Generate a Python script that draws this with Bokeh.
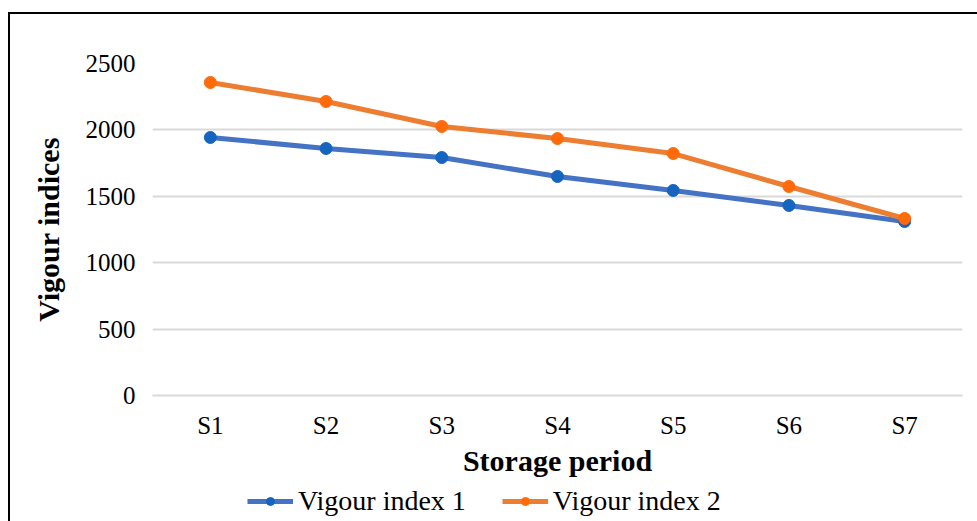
from bokeh.plotting import figure
from bokeh.layouts import column
from bokeh.embed import file_html
from bokeh.resources import INLINE
from bokeh.models import Legend, LegendItem, FixedTicker, Range1d

periods = ["S1", "S2", "S3", "S4", "S5", "S6", "S7"]
vigour_index_1 = [1943, 1860, 1792, 1649, 1544, 1431, 1310]
vigour_index_2 = [2357, 2214, 2026, 1935, 1822, 1574, 1333]
y_ticks = [0, 500, 1000, 1500, 2000, 2500]
series_names = ["Vigour index 1", "Vigour index 2"]

FONT = "Liberation Serif"
blue_line, blue_dot = "#4472C4", "#1565C0"
orange_line, orange_dot = "#ED7D31", "#FF6A0A"

p = figure(width=967, height=470, x_range=periods, y_range=Range1d(0, 2500),
           output_backend="svg", toolbar_location=None,
           min_border_left=142, min_border_right=15, min_border_top=49, min_border_bottom=89)
p.outline_line_color = None
p.background_fill_color = "white"
p.border_fill_color = "white"

p.line(periods, vigour_index_1, line_color=blue_line, line_width=5)
p.scatter(periods, vigour_index_1, size=12, fill_color=blue_dot, line_color=blue_dot)
p.line(periods, vigour_index_2, line_color=orange_line, line_width=5)
p.scatter(periods, vigour_index_2, size=12, fill_color=orange_dot, line_color=orange_dot)

# axes
p.yaxis.ticker = FixedTicker(ticks=y_ticks)
p.yaxis.axis_line_color = None
p.yaxis.major_tick_line_color = None
p.yaxis.minor_tick_line_color = None
p.yaxis.major_label_text_font = FONT
p.yaxis.major_label_text_font_size = "25px"
p.yaxis.major_label_text_color = "black"
p.yaxis.major_label_standoff = 11
p.yaxis.axis_label = "Vigour indices"
p.yaxis.axis_label_text_font = FONT
p.yaxis.axis_label_text_font_style = "bold"
p.yaxis.axis_label_text_font_size = "30px"
p.yaxis.axis_label_text_color = "black"
p.yaxis.axis_label_standoff = 18

p.xaxis.axis_line_color = "#d9d9d9"
p.xaxis.axis_line_width = 2
p.xaxis.major_tick_line_color = None
p.xaxis.minor_tick_line_color = None
p.xaxis.major_label_text_font = FONT
p.xaxis.major_label_text_font_size = "25px"
p.xaxis.major_label_text_color = "black"
p.xaxis.major_label_standoff = 10
p.xaxis.axis_label = "Storage period"
p.xaxis.axis_label_text_font = FONT
p.xaxis.axis_label_text_font_style = "bold"
p.xaxis.axis_label_text_font_size = "30px"
p.xaxis.axis_label_text_color = "black"
p.xaxis.axis_label_standoff = 2

p.xgrid.grid_line_color = None
p.ygrid.grid_line_color = "#d9d9d9"
p.ygrid.grid_line_width = 2

# legend strip (its glyphs fall outside the strip's y range; only the legend shows)
lg = figure(width=967, height=37, x_range=periods, y_range=Range1d(0, 1),
            output_backend="svg", toolbar_location=None,
            x_axis_location=None, y_axis_location=None,
            min_border_left=0, min_border_right=0, min_border_top=0, min_border_bottom=0)
lg.outline_line_color = None
lg.grid.grid_line_color = None
lg.background_fill_color = "white"
lg.border_fill_color = "white"
a1 = lg.line(periods, vigour_index_1, line_color=blue_line, line_width=5)
b1 = lg.scatter(periods, vigour_index_1, size=13, fill_color=blue_dot, line_color=blue_dot)
a2 = lg.line(periods, vigour_index_2, line_color=orange_line, line_width=5)
b2 = lg.scatter(periods, vigour_index_2, size=13, fill_color=orange_dot, line_color=orange_dot)

legend = Legend(items=[
    LegendItem(label=series_names[0], renderers=[a1, b1]),
    LegendItem(label=series_names[1], renderers=[a2, b2]),
], orientation="horizontal", location=(95, 4))
legend.label_text_font = FONT
legend.label_text_font_size = "28px"
legend.label_text_color = "black"
legend.glyph_width = 46
legend.glyph_height = 20
legend.spacing = 36
legend.label_standoff = 5
legend.border_line_color = None
legend.background_fill_alpha = 0
legend.padding = 0
legend.margin = 0
lg.add_layout(legend, "center")

layout = column(p, lg, spacing=0)
layout.margin = (14, 0, 0, 10)
layout.styles = {"outline": "2px solid black"}

open("out.html", "w").write(file_html(layout, INLINE))
